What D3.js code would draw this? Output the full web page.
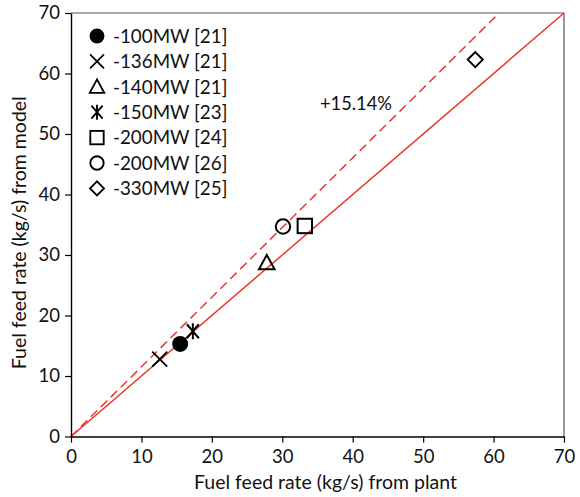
<!DOCTYPE html>
<html><head><meta charset="utf-8">
<script src="https://cdn.jsdelivr.net/npm/d3@7"></script>
<style>body{margin:0;background:#fff}svg text{font-family:Lato,"Open Sans",sans-serif;fill:#111}</style>
</head><body><svg id="c" width="580" height="497"></svg>
<script>
const seriesNames = ["-100MW [21]","-136MW [21]","-140MW [21]","-150MW [23]","-200MW [24]","-200MW [26]","-330MW [25]"];
const seriesSymbols = ["circleFilled","cross","triangle","asterisk","square","circle","diamond"];
const plantValues = [15.5, 12.6, 27.8, 17.3, 33.2, 30.1, 57.4];
const modelValues = [15.3, 12.8, 28.7, 17.4, 34.8, 34.7, 62.3];
const xTicks = [0,10,20,30,40,50,60,70];
const yTicks = [0,10,20,30,40,50,60,70];
const parityLine = [[0,0],[70,70]];
const offsetPct = 15.14;
const offsetLine = [[0,0],[70/(1+offsetPct/100),70]];

const svg = d3.select("#c");
const m = {l:71, r:564, t:13, b:436.5};
const x = d3.scaleLinear().domain([0,70]).range([m.l,m.r]);
const y = d3.scaleLinear().domain([0,70]).range([m.b,m.t]);
const red = "#e8382b";

svg.append("line").attr("x1",m.l).attr("x2",m.r).attr("y1",m.t).attr("y2",m.t).attr("stroke","#555").attr("stroke-width",1.2);
svg.append("line").attr("x1",m.r).attr("x2",m.r).attr("y1",m.t).attr("y2",m.b).attr("stroke","#555").attr("stroke-width",1.2);

const line = d3.line().x(d=>x(d[0])).y(d=>y(d[1]));
svg.append("path").attr("d",line(parityLine)).attr("stroke",red).attr("stroke-width",1.5).attr("fill","none");
svg.append("path").attr("d",line(offsetLine)).attr("stroke",red).attr("stroke-width",1.5).attr("fill","none").attr("stroke-dasharray","9,5");

const xa = svg.append("g").attr("transform",`translate(0,${m.b})`).call(d3.axisBottom(x).tickValues(xTicks).tickSize(6).tickPadding(4).tickSizeOuter(0));
const ya = svg.append("g").attr("transform",`translate(${m.l},0)`).call(d3.axisLeft(y).tickValues(yTicks).tickSize(6).tickPadding(5).tickSizeOuter(0));
[xa,ya].forEach(a=>{a.select(".domain").attr("stroke","#000").attr("stroke-width",1.4);a.selectAll(".tick line").attr("stroke","#000").attr("stroke-width",1.2);a.selectAll("text").style("font-size","18.5px").attr("fill","#111");});
xa.selectAll("text").attr("dy","0.9em");

svg.append("text").attr("x",(m.l+m.r)/2+8).attr("y",489).attr("text-anchor","middle").style("font-size","19.5px").text("Fuel feed rate (kg/s) from plant");
svg.append("text").attr("transform",`translate(26,${(m.t+m.b)/2+8}) rotate(-90)`).attr("text-anchor","middle").style("font-size","19.5px").text("Fuel feed rate (kg/s) from model");

svg.append("text").attr("x",320).attr("y",110).style("font-size","18.3px").text("+"+offsetPct.toFixed(2)+"%");

function drawSymbol(g, type){
  if(type==="circleFilled") g.append("circle").attr("r",8).attr("fill","#000");
  else if(type==="circle") g.append("circle").attr("r",7.2).attr("fill","none").attr("stroke","#000").attr("stroke-width",2);
  else if(type==="square") g.append("rect").attr("x",-7.2).attr("y",-7.2).attr("width",14.4).attr("height",14.4).attr("fill","none").attr("stroke","#000").attr("stroke-width",2);
  else if(type==="triangle") g.append("path").attr("d","M0,-8L7.8,6.5L-7.8,6.5Z").attr("fill","none").attr("stroke","#000").attr("stroke-width",2);
  else if(type==="diamond") g.append("path").attr("d","M0,-7.5L7.5,0L0,7.5L-7.5,0Z").attr("fill","none").attr("stroke","#000").attr("stroke-width",2);
  else if(type==="cross") g.append("path").attr("d","M-7.5,-7.5L7.5,7.5M7.5,-7.5L-7.5,7.5").attr("stroke","#000").attr("stroke-width",1.8);
  else if(type==="asterisk") g.append("path").attr("d","M-6,-7L6,7M6,-7L-6,7M0,-8L0,8").attr("stroke","#000").attr("stroke-width",2);
}

const pts = svg.append("g");
seriesNames.forEach((n,i)=>{
  const g = pts.append("g").attr("transform",`translate(${x(plantValues[i])},${y(modelValues[i])})`);
  drawSymbol(g, seriesSymbols[i]);
});

const leg = svg.append("g");
seriesNames.forEach((n,i)=>{
  const yy = 36 + i*25.4;
  const g = leg.append("g").attr("transform",`translate(97,${yy}) scale(0.93)`);
  drawSymbol(g, seriesSymbols[i]);
  leg.append("text").attr("x",113).attr("y",yy).attr("dy","0.36em").style("font-size","18.8px").text(n);
});
</script></body></html>
